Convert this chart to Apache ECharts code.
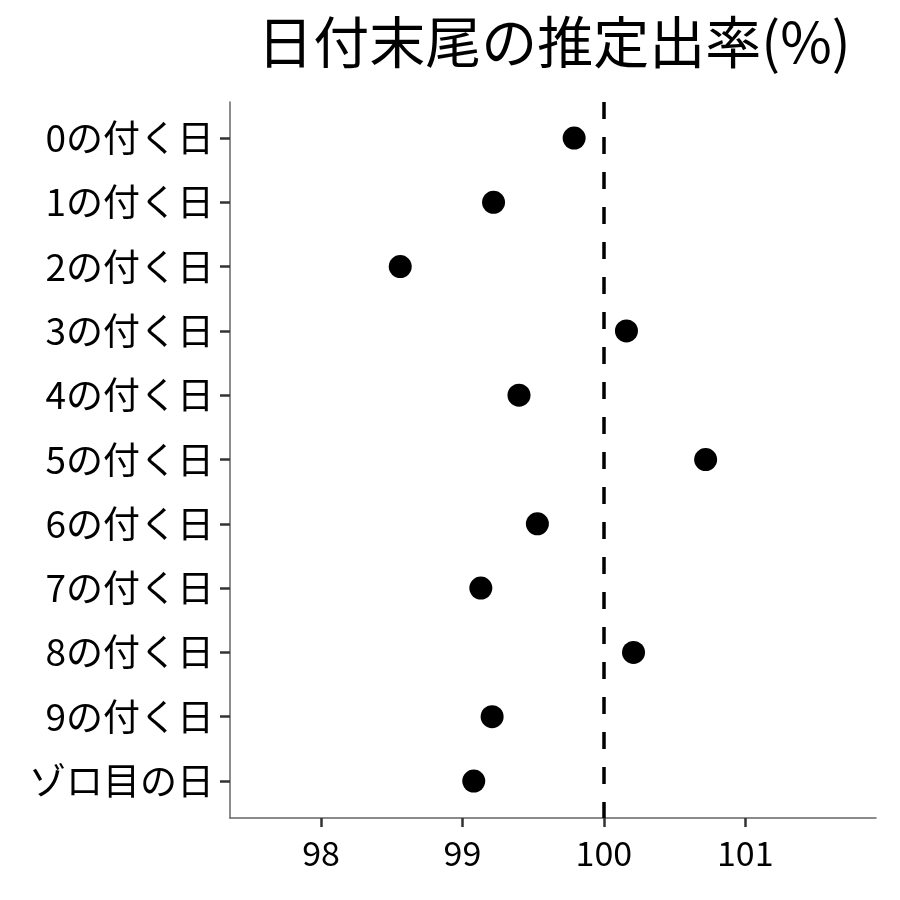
<!DOCTYPE html>
<html>
<head>
<meta charset="utf-8">
<script src="https://cdn.jsdelivr.net/npm/echarts@6/dist/echarts.min.js"></script>
<style>
  html, body { margin: 0; padding: 0; background: #fff; }
  #chart { width: 900px; height: 900px; }
</style>
</head>
<body>
<div id="chart"></div>
<script>
var categories = ['0の付く日', '1の付く日', '2の付く日', '3の付く日', '4の付く日',
    '5の付く日', '6の付く日', '7の付く日', '8の付く日', '9の付く日', 'ゾロ目の日'];
var rates = [99.79, 99.22, 98.56, 100.16, 99.40, 100.72, 99.53, 99.13, 100.21, 99.21, 99.08];
var xTicks = [98, 99, 100, 101];
var refValue = 100;

var font = '"Noto Sans CJK JP", "Noto Sans", sans-serif';
var chart = echarts.init(document.getElementById('chart'));

var points = rates.map(function(v, i) { return [v, i]; });
var catIdx = categories.map(function(c, i) { return i; });

chart.setOption({
    animation: false,
    title: {
        text: '日付末尾の推定出率(%)',
        left: 549,
        top: 9,
        textAlign: 'center',
        textStyle: { fontFamily: font, fontSize: 56, fontWeight: 'normal', color: '#000' }
    },
    grid: { left: 230, right: 24, top: 102, bottom: 82 },
    xAxis: {
        type: 'value',
        min: 97.356,
        max: 101.925,
        axisLine: { show: true, onZero: false, lineStyle: { color: '#666', width: 1.5 } },
        axisTick: { show: true, customValues: xTicks, length: 9, lineStyle: { color: '#333', width: 2.5 } },
        axisLabel: {
            customValues: xTicks,
            fontFamily: font, fontSize: 34, color: '#000', margin: 18
        },
        splitLine: { show: false }
    },
    yAxis: {
        type: 'value',
        inverse: true,
        min: -0.56,
        max: 10.575,
        axisLine: { show: true, onZero: false, lineStyle: { color: '#666', width: 1.5 } },
        axisTick: { show: true, customValues: catIdx, length: 10, lineStyle: { color: '#333', width: 2.5 } },
        axisLabel: {
            customValues: catIdx,
            formatter: function(v) { return categories[Math.round(v)]; },
            fontFamily: font, fontSize: 37, color: '#000', margin: 16
        },
        splitLine: { show: false }
    },
    series: [{
        type: 'scatter',
        data: points,
        symbolSize: 23,
        itemStyle: { color: '#000', opacity: 1 },
        markLine: {
            silent: true,
            symbol: 'none',
            label: { show: false },
            lineStyle: { color: '#000', width: 3.5, type: [17, 18] },
            data: [{ xAxis: refValue }]
        }
    }]
});
</script>
</body>
</html>
